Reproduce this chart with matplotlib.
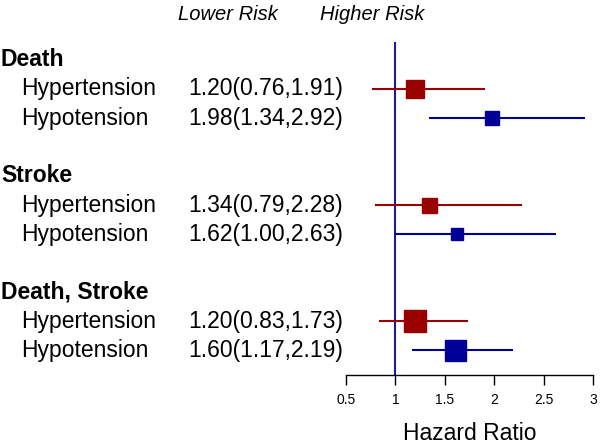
import numpy as np
import matplotlib.pyplot as plt
import matplotlib.transforms as mtransforms

plt.rcParams['font.family'] = ['Liberation Sans', 'DejaVu Sans']

groups = ["Death", "Stroke", "Death, Stroke"]
subgroups = ["Hypertension", "Hypotension"]
hr = [1.20, 1.98, 1.34, 1.62, 1.20, 1.60]
lo = [0.76, 1.34, 0.79, 1.00, 0.83, 1.17]
hi = [1.91, 2.92, 2.28, 2.63, 1.73, 2.19]
box_px = [18, 14, 15, 12, 23, 21]  # square size (weight)
colors = ["#990000", "#000099"]

fig = plt.figure(figsize=(6, 4.44), dpi=100)
ax = fig.add_axes([346/600, (444-375)/444, 247/600, (375-42)/444])

row_h = 29.0
ax.set_ylim((375-60)/row_h, (42-60)/row_h)
ax.set_xlim(0.5, 3)

trans = mtransforms.blended_transform_factory(fig.transFigure, ax.transData)

k = 0
for g, name in enumerate(groups):
    yh = g * 4
    ax.text(1/600, yh, name, transform=trans, fontsize=16.5, fontweight='bold',
            va='center', ha='left')
    for s, sub in enumerate(subgroups):
        y = yh + 1 + s
        ax.text(21/600, y, sub, transform=trans, fontsize=16.5, va='center', ha='left')
        ax.text(188/600, y, f"{hr[k]:.2f}({lo[k]:.2f},{hi[k]:.2f})", transform=trans,
                fontsize=16.5, va='center', ha='left')
        ax.plot([lo[k], hi[k]], [y, y], color=colors[s], lw=1.5, solid_capstyle='butt', zorder=2)
        ax.plot(hr[k], y, marker='s', ms=box_px[k]*0.72, color=colors[s],
                mec=colors[s], zorder=3, clip_on=False)
        k += 1

ax.axvline(1, color="#1a1aa6", lw=1.5, zorder=1)

for sp in ["top", "left", "right"]:
    ax.spines[sp].set_visible(False)
ax.spines["bottom"].set_linewidth(1.0)
ax.set_yticks([])
ticks = [0.5, 1, 1.5, 2, 2.5, 3]
ax.set_xticks(ticks)
ax.set_xticklabels(["0.5", "1", "1.5", "2", "2.5", "3"], fontsize=10)
ax.tick_params(axis='x', length=7, width=1.0, pad=6)
ax.set_xlabel("Hazard Ratio", fontsize=16.5, labelpad=11)

fig.text(228/600, 1-14/444, "Lower Risk", fontsize=14.5, style='italic', ha='center', va='center')
fig.text(372/600, 1-14/444, "Higher Risk", fontsize=14.5, style='italic', ha='center', va='center')

fig.savefig("out.png", dpi=100)
